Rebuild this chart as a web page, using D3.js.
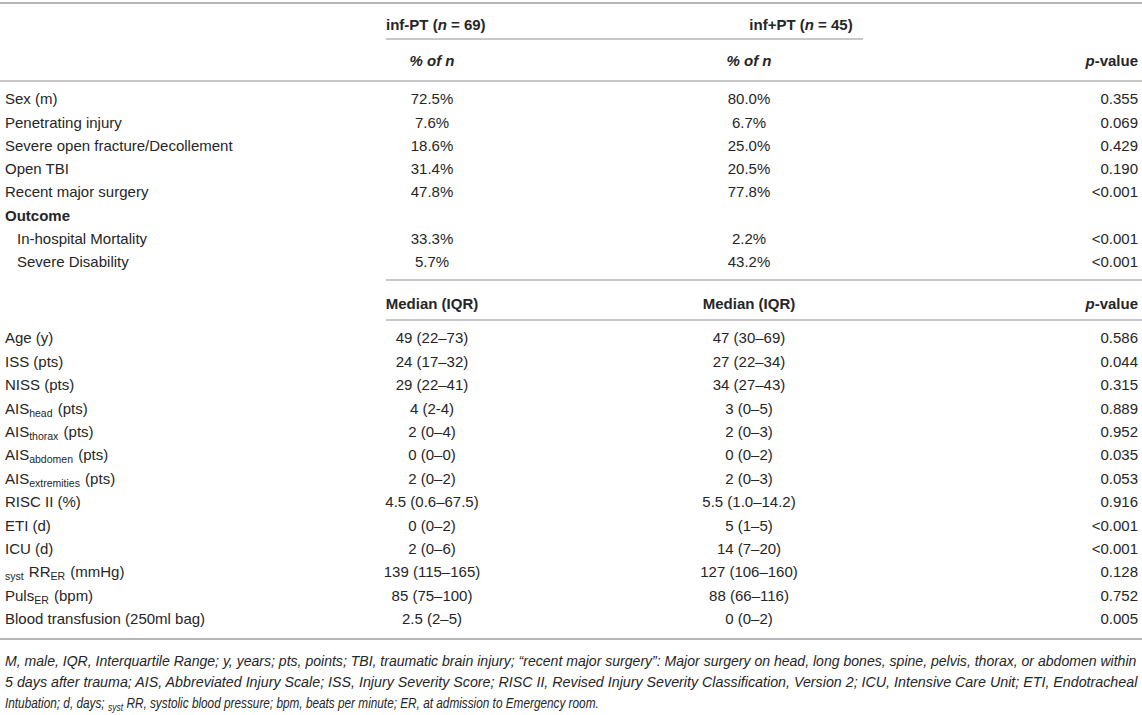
<!DOCTYPE html>
<html><head><meta charset="utf-8">
<script src="https://cdn.jsdelivr.net/npm/d3@7/dist/d3.min.js"></script>
<style>
html,body{margin:0;padding:0;background:#fff;}
svg text{font-family:"Liberation Sans",Arial,Helvetica,sans-serif;fill:#262626;}
</style></head>
<body><svg id="c" width="1142" height="715"></svg>
<script>
// ---- data ----
const groupNames = ["inf-PT", "inf+PT"];
const groupN = [69, 45];
const pctLabels = ["Sex (m)", "Penetrating injury", "Severe open fracture/Decollement", "Open TBI", "Recent major surgery", "Outcome", "In-hospital Mortality", "Severe Disability"];
const pctIndent = [0, 0, 0, 0, 0, 0, 1, 1];
const pctBold = [0, 0, 0, 0, 0, 1, 0, 0];
const pctInfMinus = ["72.5%", "7.6%", "18.6%", "31.4%", "47.8%", "", "33.3%", "5.7%"];
const pctInfPlus = ["80.0%", "6.7%", "25.0%", "20.5%", "77.8%", "", "2.2%", "43.2%"];
const pctP = ["0.355", "0.069", "0.429", "0.190", "<0.001", "", "<0.001", "<0.001"];

// label segments: [text, subscript?]
const medLabels = [
  [["Age (y)"]],
  [["ISS (pts)"]],
  [["NISS (pts)"]],
  [["AIS"], ["head", 1], [" (pts)"]],
  [["AIS"], ["thorax", 1], [" (pts)"]],
  [["AIS"], ["abdomen", 1], [" (pts)"]],
  [["AIS"], ["extremities", 1], [" (pts)"]],
  [["RISC II (%)"]],
  [["ETI (d)"]],
  [["ICU (d)"]],
  [["syst", 1], [" RR"], ["ER", 1], [" (mmHg)"]],
  [["Puls"], ["ER", 1], [" (bpm)"]],
  [["Blood transfusion (250ml bag)"]]
];
const medInfMinus = ["49 (22–73)", "24 (17–32)", "29 (22–41)", "4 (2-4)", "2 (0–4)", "0 (0–0)", "2 (0–2)", "4.5 (0.6–67.5)", "0 (0–2)", "2 (0–6)", "139 (115–165)", "85 (75–100)", "2.5 (2–5)"];
const medInfPlus = ["47 (30–69)", "27 (22–34)", "34 (27–43)", "3 (0–5)", "2 (0–3)", "0 (0–2)", "2 (0–3)", "5.5 (1.0–14.2)", "5 (1–5)", "14 (7–20)", "127 (106–160)", "88 (66–116)", "0 (0–2)"];
const medP = ["0.586", "0.044", "0.315", "0.889", "0.952", "0.035", "0.053", "0.916", "<0.001", "<0.001", "0.128", "0.752", "0.005"];

const footLines = [
  [["M, male, IQR, Interquartile Range; y, years; pts, points; TBI, traumatic brain injury; “recent major surgery”: Major surgery on head, long bones, spine, pelvis, thorax, or abdomen within"]],
  [["5 days after trauma; AIS, Abbreviated Injury Scale; ISS, Injury Severity Score; RISC II, Revised Injury Severity Classification, Version 2; ICU, Intensive Care Unit; ETI, Endotracheal"]],
  [["Intubation; d, days;"], ["syst", 1], ["RR, systolic blood pressure; bpm, beats per minute; ER, at admission to Emergency room."]]
];

// ---- layout ----
const W = 1142, H = 715;
const svg = d3.select("#c");
const FS = 15, SUB = 10.5;
const xLabel = 5, xIndent = 17, xCol1 = 432, xCol2 = 749, xP = 1138, xRuleL = 386;
const ruleColor = "#b4b4b4";

const y1 = d3.scaleLinear().domain([0, pctLabels.length - 1]).range([99, 262]);
const y2 = d3.scaleLinear().domain([0, medLabels.length - 1]).range([338, 619]);
const yF = d3.scaleLinear().domain([0, footLines.length - 1]).range([661, 703]);

function rule(x1, x2, y, w) {
  svg.append("line").attr("x1", x1).attr("x2", x2).attr("y1", y).attr("y2", y)
    .attr("stroke", ruleColor).attr("stroke-width", w || 1.5);
}
function segText(segs, x, y, anchor, o) {
  o = o || {};
  const fs = o.fs || FS;
  const t = svg.append("text").attr("x", x).attr("y", y + fs * 0.35)
    .attr("text-anchor", anchor || "start").attr("font-size", fs);
  if (o.bold) t.attr("font-weight", "bold");
  if (o.italic) t.attr("font-style", "italic");
  let shifted = false;
  segs.forEach(s => {
    const sp = t.append("tspan").text(s[0]);
    if (s[1] && !shifted) { sp.attr("font-size", o.sub || SUB).attr("dy", 3); shifted = true; }
    else if (!s[1] && shifted) { sp.attr("dy", -3).attr("dx", 1); shifted = false; }
    else if (s[1]) sp.attr("font-size", o.sub || SUB);
    if (s[2]) sp.attr("font-style", "italic");
  });
  return t;
}

// header block
rule(0, W, 3, 2);
segText([[groupNames[0] + " ("], ["n", 0, 1], [" = " + groupN[0] + ")"]], xRuleL, 25, "start", {bold: 1});
segText([[groupNames[1] + " ("], ["n", 0, 1], [" = " + groupN[1] + ")"]], 801, 25, "middle", {bold: 1});
rule(xRuleL, 863, 39);
segText([["% of n"]], xCol1, 61, "middle", {bold: 1, italic: 1});
segText([["% of n"]], xCol2, 61, "middle", {bold: 1, italic: 1});
segText([["p", 0, 1], ["-value"]], xP, 61, "end", {bold: 1});
rule(0, W, 81);

// percent section
pctLabels.forEach((d, i) => {
  segText([[d]], pctIndent[i] ? xIndent : xLabel, y1(i), "start", {bold: pctBold[i]});
  segText([[pctInfMinus[i]]], xCol1, y1(i), "middle");
  segText([[pctInfPlus[i]]], xCol2, y1(i), "middle");
  segText([[pctP[i]]], xP, y1(i), "end");
});

// median header
rule(xRuleL, W, 280);
segText([["Median (IQR)"]], xCol1, 304, "middle", {bold: 1});
segText([["Median (IQR)"]], xCol2, 304, "middle", {bold: 1});
segText([["p", 0, 1], ["-value"]], xP, 304, "end", {bold: 1});
rule(xRuleL, W, 320);

// median section
medLabels.forEach((d, i) => {
  segText(d, xLabel, y2(i), "start");
  segText([[medInfMinus[i]]], xCol1, y2(i), "middle");
  segText([[medInfPlus[i]]], xCol2, y2(i), "middle");
  segText([[medP[i]]], xP, y2(i), "end");
});
rule(0, W, 639, 2);

// footnote: condensed italic (horizontal scale of a group), segments laid out at natural widths
const footLen = [1133, 1133, 594];
const FFS = 14, FSUB = 10, GAP = 4;
footLines.forEach((segs, i) => {
  const g = svg.append("g");
  const base = FFS * 0.35;
  const els = segs.map(s => g.append("text")
    .attr("y", base + (s[1] ? 3 : 0))
    .attr("font-size", s[1] ? FSUB : FFS)
    .attr("font-style", "italic")
    .text(s[0]));
  const nat = els.map(e => e.node().getComputedTextLength());
  let x = 0;
  els.forEach((e, j) => { e.attr("x", x); x += nat[j] + GAP; });
  const total = x - GAP;
  const k = footLen[i] / total;
  g.attr("transform", `translate(${xLabel},${yF(i)}) scale(${k},1)`);
});
</script></body></html>
